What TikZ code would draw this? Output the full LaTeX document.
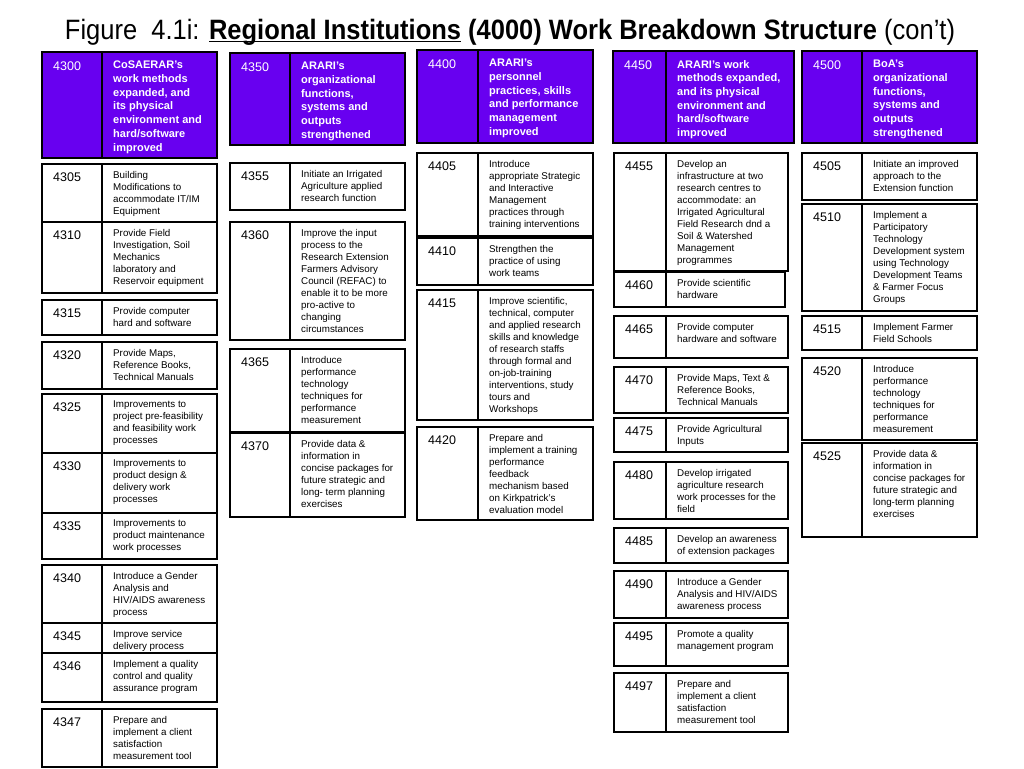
\documentclass[tikz,border=0pt]{standalone}
\usepackage{fontspec}
\setmainfont{Liberation Sans}
\usepackage{graphicx}
\usepackage{tikz}
\definecolor{WbsPurple}{RGB}{104, 0, 240}

% one item: x0, x1 (divider), x2, y0, y1, number, text
\newcommand{\wbsitem}[7]{%
  \draw [itembox] (#1,#4) rectangle (#3,#5);
  \draw [itembox] (#2,#4) -- (#2,#5);
  \node [numtext] (n#6) at ({#1+11},{#4+9}) {#6};
  \node [bodytext] (t#6) at ({#2+11},{#4+7}) {#7};
}
% heading item, same arguments
\newcommand{\wbshead}[7]{%
  \draw [headbox] (#1,#4) rectangle (#3,#5);
  \draw [itembox] (#2,#4) -- (#2,#5);
  \node [headnum] (n#6) at ({#1+11},{#4+10}) {#6};
  \node [headtext] (t#6) at ({#2+11},{#4+9}) {#7};
}

\begin{document}
\begin{tikzpicture}[x=1pt, y=-1pt,
    itembox/.style={draw=black, line width=1.4pt},
    headbox/.style={itembox, fill=WbsPurple},
    numtext/.style={anchor=north west, inner sep=0pt, font=\fontsize{12.5}{14}\selectfont},
    bodytext/.style={anchor=north west, inner sep=0pt, align=left, font=\fontsize{9.8}{12}\selectfont},
    headnum/.style={numtext, text=white},
    headtext/.style={bodytext, text=white, font=\fontsize{11}{13.7}\selectfont\bfseries}]
        \useasboundingbox (0,0) rectangle (1024,768);

        % Title
        \node [anchor=base, inner sep=0pt, font=\fontsize{28}{30}\selectfont] (title) at (510,40)
            {\resizebox{890pt}{\height}{Figure\ \ 4.1i: \textbf{\underline{\smash{Regional Institutions}} (4000) Work Breakdown Structure} (con't)}};

        % Column 4300
        \wbshead{42}{102}{217}{52}{158}{4300}{CoSAERAR's\\work methods\\expanded, and\\its physical\\environment and\\hard/software\\improved}
        \wbsitem{42}{102}{217}{164}{222}{4305}{Building\\Modifications to\\accommodate IT/IM\\Equipment}
        \wbsitem{42}{102}{217}{222}{293}{4310}{Provide Field\\Investigation, Soil\\Mechanics\\laboratory and\\Reservoir equipment}
        \wbsitem{42}{102}{217}{300}{335}{4315}{Provide computer\\hard and software}
        \wbsitem{42}{102}{217}{342}{389}{4320}{Provide Maps,\\Reference Books,\\Technical Manuals}
        \wbsitem{42}{102}{217}{394}{453}{4325}{Improvements to\\project pre-feasibility\\and feasibility work\\processes}
        \wbsitem{42}{102}{217}{453}{513}{4330}{Improvements to\\product design \&\\delivery work\\processes}
        \wbsitem{42}{102}{217}{513}{559}{4335}{Improvements to\\product maintenance\\work processes}
        \wbsitem{42}{102}{217}{565}{623}{4340}{Introduce a Gender\\Analysis and\\HIV/AIDS awareness\\process}
        \wbsitem{42}{102}{217}{623}{653}{4345}{Improve service\\delivery process}
        \wbsitem{42}{102}{217}{653}{702}{4346}{Implement a quality\\control and quality\\assurance program}
        \wbsitem{42}{102}{217}{709}{767}{4347}{Prepare and\\implement a client\\satisfaction\\measurement tool}

        % Column 4350
        \wbshead{230}{290}{405}{53}{145}{4350}{ARARI's\\organizational\\functions,\\systems and\\outputs\\strengthened}
        \wbsitem{230}{290}{405}{163}{210}{4355}{Initiate an Irrigated\\Agriculture applied\\research function}
        \wbsitem{230}{290}{405}{222}{340}{4360}{Improve the input\\process to the\\Research Extension\\Farmers Advisory\\Council (REFAC) to\\enable it to be more\\pro-active to\\changing\\circumstances}
        \wbsitem{230}{290}{405}{349}{432}{4365}{Introduce\\performance\\technology\\techniques for\\performance\\measurement}
        \wbsitem{230}{290}{405}{433}{517}{4370}{Provide data \&\\information in\\concise packages for\\future strategic and\\long- term planning\\exercises}

        % Column 4400
        \wbshead{417}{478}{593}{50}{143}{4400}{ARARI's\\personnel\\practices, skills\\and performance\\management\\improved}
        \wbsitem{417}{478}{593}{153}{236}{4405}{Introduce\\appropriate Strategic\\and Interactive\\Management\\practices through\\training interventions}
        \wbsitem{417}{478}{593}{238}{285}{4410}{Strengthen the\\practice of using\\work teams}
        \wbsitem{417}{478}{593}{290}{420}{4415}{Improve scientific,\\technical, computer\\and applied research\\skills and knowledge\\of research staffs\\through formal and\\on-job-training\\interventions, study\\tours and\\Workshops}
        \wbsitem{417}{478}{593}{427}{520}{4420}{Prepare and\\implement a training\\performance\\feedback\\mechanism based\\on Kirkpatrick's\\evaluation model}

        % Column 4450
        \wbshead{613}{666}{794}{51}{143}{4450}{ARARI's work\\methods expanded,\\and its physical\\environment and\\hard/software\\improved}
        \wbsitem{614}{666}{788}{153}{271}{4455}{Develop an\\infrastructure at two\\research centres to\\accommodate: an\\Irrigated Agricultural\\Field Research dnd a\\Soil \& Watershed\\Management\\programmes}
        \wbsitem{614}{666}{785}{272}{307}{4460}{Provide scientific\\hardware}
        \wbsitem{614}{666}{788}{316}{358}{4465}{Provide computer\\hardware and software}
        \wbsitem{614}{666}{788}{367}{413}{4470}{Provide Maps, Text \&\\Reference Books,\\Technical Manuals}
        \wbsitem{614}{666}{788}{418}{452}{4475}{Provide Agricultural\\Inputs}
        \wbsitem{614}{666}{788}{462}{519}{4480}{Develop irrigated\\agriculture research\\work processes for the\\field}
        \wbsitem{614}{666}{788}{528}{563}{4485}{Develop an awareness\\of extension packages}
        \wbsitem{614}{666}{788}{571}{618}{4490}{Introduce a Gender\\Analysis and HIV/AIDS\\awareness process}
        \wbsitem{614}{666}{788}{623}{666}{4495}{Promote a quality\\management program}
        \wbsitem{614}{666}{788}{673}{732}{4497}{Prepare and\\implement a client\\satisfaction\\measurement tool}

        % Column 4500
        \wbshead{802}{862}{977}{51}{143}{4500}{BoA's\\organizational\\functions,\\systems and\\outputs\\strengthened}
        \wbsitem{802}{862}{977}{153}{200}{4505}{Initiate an improved\\approach to the\\Extension function}
        \wbsitem{802}{862}{977}{204}{311}{4510}{Implement a\\Participatory\\Technology\\Development system\\using Technology\\Development Teams\\\& Farmer Focus\\Groups}
        \wbsitem{802}{862}{977}{316}{350}{4515}{Implement Farmer\\Field Schools}
        \wbsitem{802}{862}{977}{358}{440}{4520}{Introduce\\performance\\technology\\techniques for\\performance\\measurement}
        \wbsitem{802}{862}{977}{443}{537}{4525}{Provide data \&\\information in\\concise packages for\\future strategic and\\long-term planning\\exercises}
    \end{tikzpicture}
\end{document}
